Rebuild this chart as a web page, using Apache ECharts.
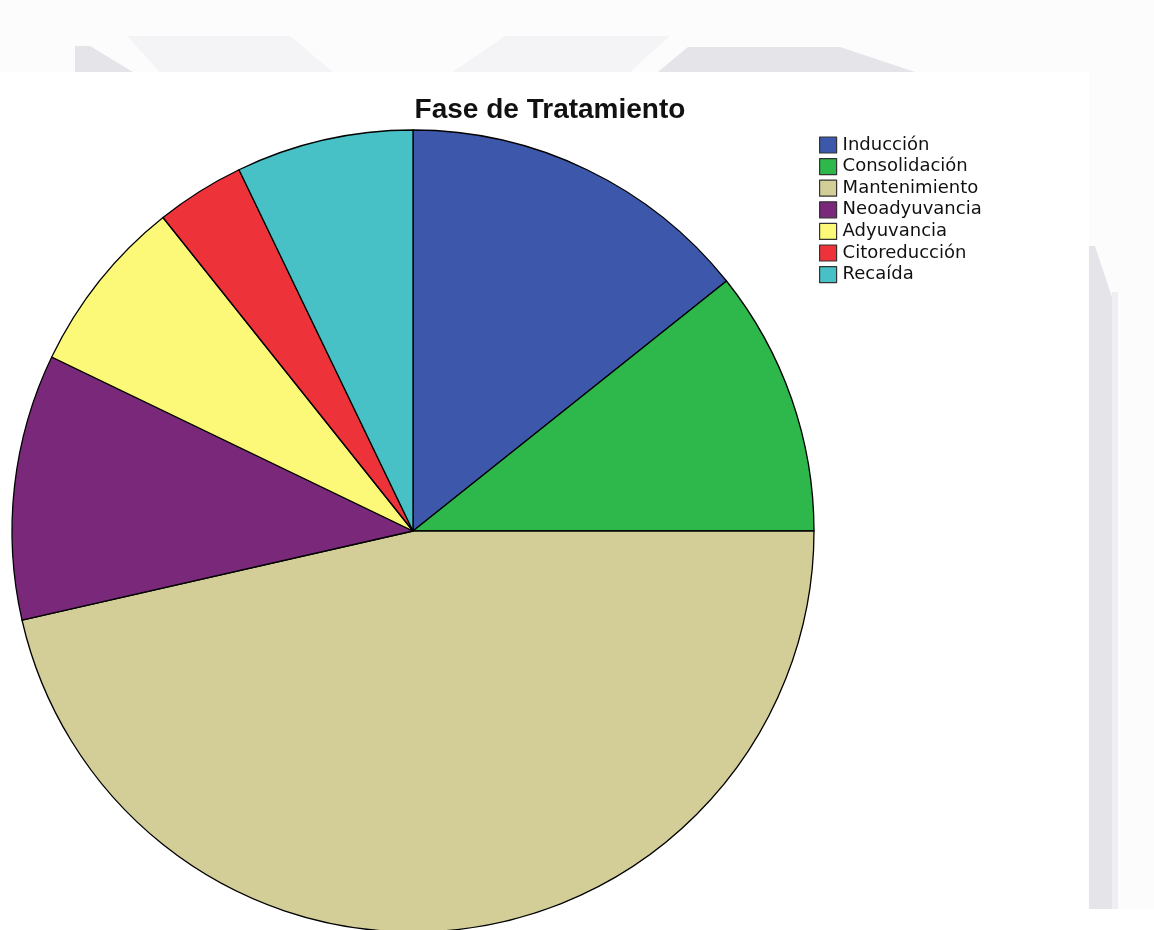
<!DOCTYPE html>
<html>
<head>
<meta charset="utf-8">
<title>Fase de Tratamiento</title>
<script src="https://cdn.jsdelivr.net/npm/echarts@6/dist/echarts.min.js"></script>
<style>
  html, body { margin: 0; padding: 0; background: #ffffff; }
  #chart { width: 1154px; height: 930px; }
</style>
</head>
<body>
<div id="chart"></div>
<script>
// Number of patients in each treatment phase
const categories = ['Inducción', 'Consolidación', 'Mantenimiento', 'Neoadyuvancia', 'Adyuvancia', 'Citoreducción', 'Recaída'];
const counts = [4, 3, 13, 3, 2, 1, 2];
const sliceColors = ['#3d57aa', '#2eb74a', '#d3ce98', '#79287a', '#fbf977', '#ee3239', '#47c0c6'];

const chart = echarts.init(document.getElementById('chart'), null, { renderer: 'canvas' });

// faint page decoration behind the chart
const pale = '#f4f4f6';
const grey = '#e5e4e9';
const decor = [
  { type: 'rect', shape: { x: 0, y: 0, width: 1154, height: 72 }, style: { fill: '#fcfcfc' } },
  { type: 'rect', shape: { x: 1089, y: 72, width: 65, height: 837 }, style: { fill: '#fcfcfc' } },
  { type: 'polygon', shape: { points: [[127, 36], [290, 36], [333, 72], [160, 72]] }, style: { fill: pale } },
  { type: 'polygon', shape: { points: [[75, 46], [90, 46], [133, 72], [75, 72]] }, style: { fill: grey } },
  { type: 'polygon', shape: { points: [[505, 36], [670, 36], [630, 72], [453, 72]] }, style: { fill: pale } },
  { type: 'polygon', shape: { points: [[688, 47], [840, 47], [915, 72], [658, 72]] }, style: { fill: grey } },
  { type: 'polygon', shape: { points: [[1089, 246], [1095, 246], [1112, 297], [1112, 909], [1089, 909]] }, style: { fill: grey } },
  { type: 'rect', shape: { x: 1112, y: 292, width: 6, height: 617 }, style: { fill: '#efeef3' } }
].map(g => Object.assign({ z: -10, silent: true }, g));

chart.setOption({
  animation: false,
  backgroundColor: 'transparent',
  title: {
    text: 'Fase de Tratamiento',
    left: 545,
    textAlign: 'center',
    top: 91,
    textStyle: {
      fontFamily: 'Liberation Sans',
      fontWeight: 'bold',
      fontSize: 28,
      color: '#111'
    }
  },
  legend: {
    orient: 'vertical',
    left: 814,
    top: 131,
    icon: 'rect',
    itemWidth: 17,
    itemHeight: 16,
    itemGap: 3.6,
    data: categories,
    itemStyle: { borderColor: '#333', borderWidth: 1.2 },
    textStyle: {
      fontFamily: 'DejaVu Sans',
      fontSize: 18,
      lineHeight: 16,
      color: '#111',
      padding: [0, 0, 0, 1]
    }
  },
  graphic: decor,
  series: [{
    type: 'pie',
    center: [413, 531],
    radius: 401,
    startAngle: 90,
    clockwise: true,
    label: { show: false },
    labelLine: { show: false },
    emphasis: { disabled: true },
    itemStyle: { borderColor: '#000', borderWidth: 1.3 },
    data: categories.map((name, i) => ({
      name,
      value: counts[i],
      itemStyle: { color: sliceColors[i] }
    }))
  }]
});
</script>
</body>
</html>
